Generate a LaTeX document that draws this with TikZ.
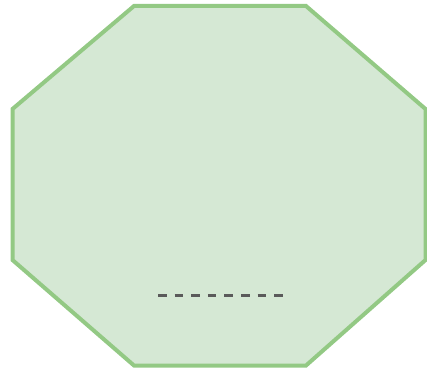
\documentclass[tikz,border=0pt]{standalone}
\definecolor{octfill}{HTML}{D5E8D4}
\definecolor{octline}{HTML}{93C984}
\definecolor{dashgray}{HTML}{5A5A5A}
\tikzset{
  octo/.style={fill=octfill, draw=octline, line width=4pt, line join=miter},
  dashline/.style={draw=dashgray, line width=3pt, dash pattern=on 8.5pt off 8.1pt}
}
\begin{document}
\begin{tikzpicture}[x=1pt,y=-1pt]
\useasboundingbox (0,0) rectangle (427,371);
\coordinate (v1) at (134,6);
\coordinate (v2) at (306,6);
\coordinate (v3) at (425.5,109);
\coordinate (v4) at (425.5,260);
\coordinate (v5) at (306,365.5);
\coordinate (v6) at (134,365.5);
\coordinate (v7) at (12.5,260);
\coordinate (v8) at (12.5,109);
\path[octo] (v1) -- (v2) -- (v3) -- (v4) -- (v5) -- (v6) -- (v7) -- (v8) -- cycle;
\coordinate (d1) at (158,295);
\coordinate (d2) at (283,295);
\draw[dashline] (d1) -- (d2);
\end{tikzpicture}
\end{document}
